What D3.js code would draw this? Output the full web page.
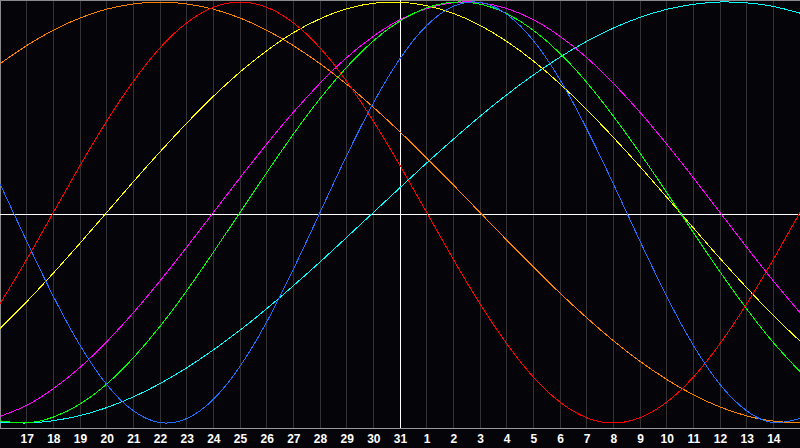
<!DOCTYPE html>
<html><head><meta charset="utf-8">
<script src="https://cdn.jsdelivr.net/npm/d3@7/dist/d3.min.js"></script>
<style>
html,body{margin:0;padding:0;background:#050408;overflow:hidden}
svg{display:block}
</style></head>
<body>
<svg id="chart" width="800" height="448"></svg>
<script>
// day labels for sample points k = 0..30 (16 .. 31, 1 .. 15)
const days = ["16","17","18","19","20","21","22","23","24","25","26","27","28","29","30","31",
              "1","2","3","4","5","6","7","8","9","10","11","12","13","14","15"];
const tickLabels = ["17","18","19","20","21","22","23","24","25","26","27","28","29","30","31",
                    "1","2","3","4","5","6","7","8","9","10","11","12","13","14"];
const centerLabel = "31";

const physical     = [0.136,-0.136,-0.398,-0.631,-0.817,-0.942,-0.998,-0.979,-0.888,-0.731,-0.520,-0.270,0,0.270,0.520,0.731,0.888,0.979,0.998,0.942,0.817,0.631,0.398,0.136,-0.136,-0.398,-0.631,-0.817,-0.942,-0.998,-0.979];
const emotional    = [-0.434,-0.223,0,0.223,0.434,0.623,0.782,0.901,0.975,1,0.975,0.901,0.782,0.623,0.434,0.223,0,-0.223,-0.434,-0.623,-0.782,-0.901,-0.975,-1,-0.975,-0.901,-0.782,-0.623,-0.434,-0.223,0];
const intellectual = [-0.990,-0.999,-0.972,-0.910,-0.815,-0.690,-0.541,-0.372,-0.189,0,0.189,0.372,0.541,0.690,0.815,0.910,0.972,0.999,0.990,0.945,0.866,0.756,0.618,0.458,0.282,0.095,-0.095,-0.282,-0.458,-0.618,-0.756];
const intuitive    = [-0.969,-0.916,-0.837,-0.736,-0.614,-0.476,-0.325,-0.165,0,0.165,0.325,0.476,0.614,0.736,0.837,0.916,0.969,0.997,0.997,0.969,0.916,0.837,0.736,0.614,0.476,0.325,0.165,0,-0.165,-0.325,-0.476];
const aesthetic    = [-0.552,-0.424,-0.288,-0.146,0,0.146,0.288,0.424,0.552,0.667,0.768,0.854,0.920,0.968,0.994,0.999,0.983,0.946,0.889,0.813,0.720,0.611,0.489,0.357,0.218,0.073,-0.073,-0.218,-0.357,-0.489,-0.611];
const awareness    = [0.707,0.793,0.866,0.924,0.966,0.991,1,0.991,0.966,0.924,0.866,0.793,0.707,0.609,0.5,0.383,0.259,0.131,0,-0.131,-0.259,-0.383,-0.5,-0.609,-0.707,-0.793,-0.866,-0.924,-0.966,-0.991,-1];
const spiritual    = [-0.996,-1.000,-0.989,-0.965,-0.927,-0.876,-0.813,-0.738,-0.653,-0.559,-0.457,-0.348,-0.235,-0.118,0,0.118,0.235,0.348,0.457,0.559,0.653,0.738,0.813,0.876,0.927,0.965,0.989,1.000,0.996,0.979,0.947];

const seriesNames  = ["spiritual","awareness","aesthetic","intuitive","intellectual","emotional","physical"];
const seriesValues = [spiritual, awareness, aesthetic, intuitive, intellectual, emotional, physical];
const seriesColors = ["#00ffff","#ff8000","#ffff00","#ff00ff","#00ff00","#ff0000","#1e6eff"];

const svg = d3.select("#chart");
const W = 800, plotBottom = 428;
const x = d3.scaleLinear().domain([0, days.length - 1]).range([0, W]);
const y = d3.scaleLinear().domain([-1, 1]).range([423, 2]);

svg.append("rect").attr("width", 800).attr("height", 448).attr("fill", "#050408");

// vertical day grid
const px = v => Math.floor(v) + 0.5;
svg.append("g").selectAll("line").data(d3.range(1, days.length - 1)).join("line")
  .attr("x1", d => px(x(d))).attr("x2", d => px(x(d)))
  .attr("y1", 0).attr("y2", plotBottom)
  .attr("stroke", "#333333").attr("stroke-width", 1)
  .attr("shape-rendering", "crispEdges");

// frame
svg.append("line").attr("x1", 0).attr("x2", W).attr("y1", 0.5).attr("y2", 0.5)
  .attr("stroke", "#8a8a8a").attr("shape-rendering", "crispEdges");
svg.append("line").attr("x1", 0.5).attr("x2", 0.5).attr("y1", 0).attr("y2", plotBottom)
  .attr("stroke", "#8a8a8a").attr("shape-rendering", "crispEdges");

// centre cross (today + zero line)
const cIdx = days.indexOf(centerLabel);
svg.append("line").attr("x1", 0).attr("x2", W).attr("y1", 214.5).attr("y2", 214.5)
  .attr("stroke", "#ffffff").attr("shape-rendering", "crispEdges");
svg.append("line").attr("x1", px(x(cIdx))).attr("x2", px(x(cIdx))).attr("y1", 0).attr("y2", plotBottom)
  .attr("stroke", "#ffffff").attr("shape-rendering", "crispEdges");

// curves
const line = d3.line().x((d, i) => x(i)).y(d => y(d)).curve(d3.curveNatural);
svg.append("g").selectAll("path").data(seriesValues).join("path")
  .attr("d", d => line(d))
  .attr("fill", "none")
  .attr("stroke", (d, i) => seriesColors[i])
  .attr("stroke-width", 1)
  .attr("shape-rendering", "crispEdges");

// bottom axis line
svg.append("line").attr("x1", 0).attr("x2", W).attr("y1", plotBottom + 0.5).attr("y2", plotBottom + 0.5)
  .attr("stroke", "#9a9a9a").attr("shape-rendering", "crispEdges");

// tick labels
const tickIdx = tickLabels.map(t => days.indexOf(t, t === "1" || (+t < 16 && +t > 0 && days.indexOf(t) < 16 && +t <= 15) ? 16 : 0));
const axis = d3.axisBottom(x).tickValues(d3.range(1, days.length - 1))
  .tickFormat(i => tickLabels[i - 1]).tickSize(0).tickPadding(0);
const gAxis = svg.append("g").attr("transform", `translate(0,${plotBottom})`).call(axis);
gAxis.select(".domain").remove();
gAxis.selectAll("text")
  .attr("y", 15).attr("dy", 0)
  .attr("fill", "#ffffff")
  .style("font-family", "'Liberation Sans', Arial, sans-serif")
  .style("font-weight", "bold")
  .style("font-size", "12px");
</script>
</body></html>
